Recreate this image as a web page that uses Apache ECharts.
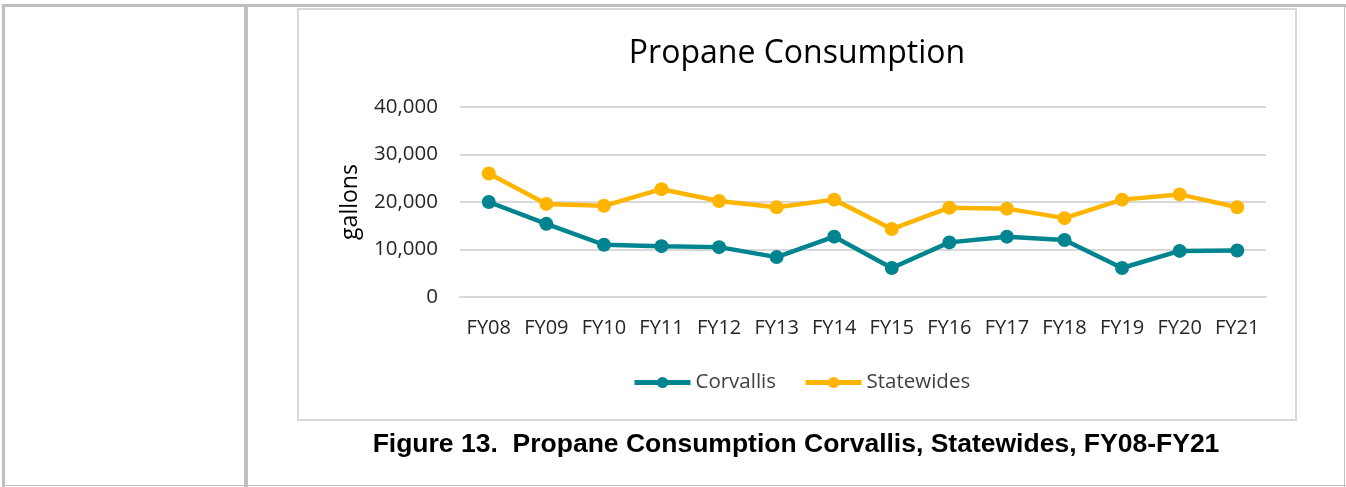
<!DOCTYPE html>
<html>
<head>
<meta charset="utf-8">
<script src="https://cdn.jsdelivr.net/npm/echarts@6/dist/echarts.min.js"></script>
<style>
  html, body { margin: 0; padding: 0; background: #fff; }
  body { width: 1346px; height: 487px; position: relative; overflow: hidden; }
  .ln { position: absolute; background: #bfbfbf; }
  #box { position: absolute; left: 297px; top: 8px; width: 996px; height: 409px; border: 2px solid #d9d9d9; background: #fff; }
  #chart { position: absolute; left: 0; top: 0; width: 1346px; height: 487px; }
  #caption { position: absolute; left: 248px; width: 1096px; top: 428px; line-height: 30px; text-align: center;
             font-family: "Liberation Sans", Arial, sans-serif; font-weight: bold; font-size: 26.5px; color: #000; }
</style>
</head>
<body>
<div class="ln" style="left:2px;top:4px;width:1344px;height:3px;"></div>
<div class="ln" style="left:2px;top:4px;width:3px;height:483px;"></div>
<div class="ln" style="left:244px;top:4px;width:4px;height:483px;"></div>
<div class="ln" style="left:1344px;top:4px;width:1px;height:483px;"></div>
<div class="ln" style="left:2px;top:485px;width:1344px;height:1px;"></div>
<div id="box"></div>
<div id="chart"></div>
<div id="caption">Figure 13.&nbsp; Propane Consumption Corvallis, Statewides, FY08-FY21</div>
<script>
const categories = ['FY08','FY09','FY10','FY11','FY12','FY13','FY14','FY15','FY16','FY17','FY18','FY19','FY20','FY21'];
const corvallis  = [20000,15400,11000,10700,10500,8400,12700,6100,11500,12700,12000,6100,9700,9800];
const statewides = [26000,19600,19200,22700,20200,18900,20500,14300,18800,18600,16600,20500,21600,18900];
const yTicks = [0,10000,20000,30000,40000];

const chart = echarts.init(document.getElementById('chart'), null, {renderer: 'canvas'});
const font = '"Open Sans", sans-serif';
chart.setOption({
  backgroundColor: 'transparent',
  animation: false,
  title: {
    text: 'Propane Consumption',
    left: 792, top: 33, textAlign: 'center',
    textStyle: { fontFamily: font, fontSize: 32, fontWeight: 'normal', color: '#000' }
  },
  legend: {
    data: ['Corvallis','Statewides'],
    left: 632, top: 372, padding: 0,
    itemWidth: 56, itemHeight: 14, itemGap: 27,
    lineStyle: { width: 5 },
    textStyle: { fontFamily: font, fontSize: 20.5, color: '#404040' }
  },
  grid: { left: 460, right: 80, top: 107, bottom: 190 },
  xAxis: {
    type: 'category',
    data: categories,
    boundaryGap: true,
    axisLine: { lineStyle: { color: '#d9d9d9', width: 2 } },
    axisTick: { show: false },
    axisLabel: { interval: 0, fontFamily: font, fontSize: 20, color: '#262626', margin: 21 }
  },
  yAxis: {
    type: 'value',
    min: yTicks[0], max: yTicks[yTicks.length - 1], interval: 10000,
    name: 'gallons', nameLocation: 'middle', nameGap: 98, nameRotate: 90,
    nameTextStyle: { fontFamily: font, fontSize: 23, color: '#000' },
    axisLine: { show: false },
    axisTick: { show: false },
    splitLine: { lineStyle: { color: '#d9d9d9', width: 2 } },
    axisLabel: { fontFamily: font, fontSize: 20.5, color: '#262626', margin: 22,
      formatter: v => v.toLocaleString('en-US') }
  },
  series: [
    { name: 'Corvallis', type: 'line', data: corvallis, symbol: 'circle', symbolSize: 14,
      color: '#00848F', lineStyle: { width: 4.5, color: '#00848F' }, itemStyle: { color: '#00848F' } },
    { name: 'Statewides', type: 'line', data: statewides, symbol: 'circle', symbolSize: 14,
      color: '#FFB400', lineStyle: { width: 4.5, color: '#FFB400' }, itemStyle: { color: '#FFB400' } }
  ]
});
</script>
</body>
</html>
